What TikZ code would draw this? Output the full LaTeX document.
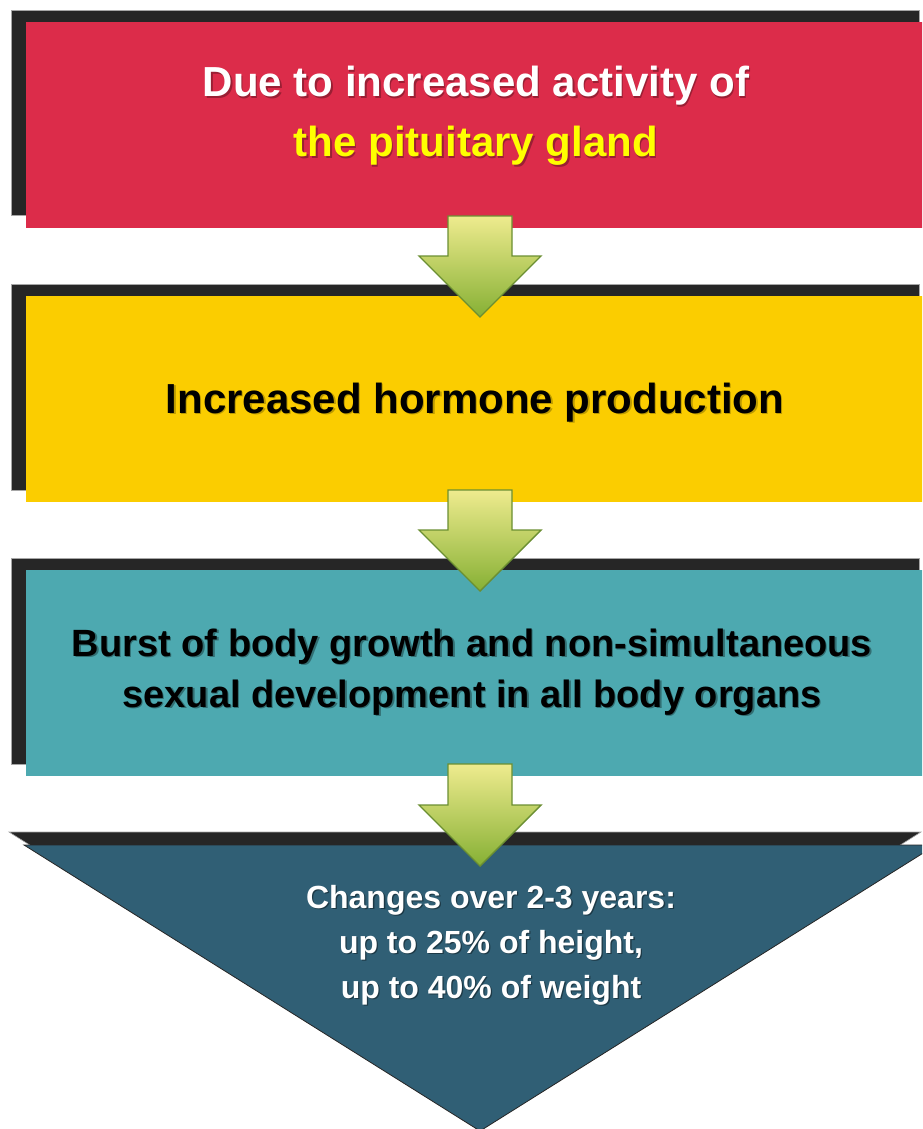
\documentclass[tikz,border=0pt]{standalone}
\usepackage{fontspec}
\setmainfont{Liberation Sans}
\usetikzlibrary{calc}
\definecolor{boxred}{HTML}{DC2C4A}
\definecolor{boxyel}{HTML}{FBCD00}
\definecolor{boxteal}{HTML}{4DA9B0}
\definecolor{boxblue}{HTML}{305F75}
\definecolor{shadowc}{HTML}{262626}
\definecolor{txtyel}{HTML}{FFFF00}
\definecolor{arrtop}{HTML}{EEEB8E}
\definecolor{arrbot}{HTML}{86B034}
\definecolor{arrline}{HTML}{6B8F32}
\tikzset{
  boxsty/.style={minimum width=908pt, minimum height=206pt, anchor=north west, inner sep=0pt, outer sep=0pt},
  shadowsty/.style={fill=shadowc, draw=gray!70, line width=0.6pt},
  arrowsty/.style={top color=arrtop, bottom color=arrbot, draw=arrline, line width=1.4pt, line join=miter},
  txt/.style={align=center, inner sep=0pt, anchor=base},
  bigtxt/.style={txt, font=\fontsize{42}{60}\selectfont\bfseries},
  midtxt/.style={txt, font=\fontsize{38}{51}\selectfont\bfseries},
  smalltxt/.style={txt, font=\fontsize{32}{45}\selectfont\bfseries}
}
\newcommand\shl[3]{\makebox[0pt][l]{\hspace{1.3pt}\raisebox{-1.3pt}{\textcolor{#2}{#3}}}\textcolor{#1}{#3}}
\newcommand\blockarrow[2]{%
  \path[arrowsty] let \p1=(#1), \p2=(#2) in
    (\x1-32pt,\y1+12pt) -- (\x1+32pt,\y1+12pt) -- (\x1+32pt,\y2+40pt) --
    (\x1+61pt,\y2+40pt) -- (\x1,\y2-21pt) -- (\x1-61pt,\y2+40pt) --
    (\x1-32pt,\y2+40pt) -- cycle;}
\begin{document}
\begin{tikzpicture}[x=1pt,y=-1pt]
\useasboundingbox (0,0) rectangle (922,1129);
\clip (0,0) rectangle (922,1129);
% box 1
\fill[shadowsty] (11,10) rectangle (919,215);
\node[boxsty, fill=boxred] (b1) at (26,22) {};
% box 2
\fill[shadowsty] (11,284) rectangle (919,490);
\node[boxsty, fill=boxyel] (b2) at (26,296) {};
% box 3
\fill[shadowsty] (11,558) rectangle (919,764);
\node[boxsty, fill=boxteal] (b3) at (26,570) {};
% triangle
\fill[shadowsty] (9,832) -- (921,832) -- (465,1118) -- cycle;
\fill[boxblue, draw=shadowc, line width=0.8pt] (24,845) -- (936,845) -- (480,1131) -- cycle;
\coordinate (b4) at (480,845);
% texts (base anchor = baseline of last line)
\node[bigtxt] (t1) at (476,157) {\shl{white}{boxred!70!black}{Due to increased activity of}\\\shl{txtyel}{boxred!70!black}{the pituitary gland}};
\node[bigtxt] (t2) at (475,413) {\shl{black}{boxyel!75!black}{Increased hormone production}};
\node[midtxt] (t3) at (472,707) {\shl{black}{boxteal!65!black}{Burst of body growth and non-simultaneous}\\\shl{black}{boxteal!65!black}{sexual development in all body organs}};
\node[smalltxt] (t4) at (491,998) {\shl{white}{boxblue!60!black}{Changes over 2-3 years:}\\\shl{white}{boxblue!60!black}{up to 25\% of height,}\\\shl{white}{boxblue!60!black}{up to 40\% of weight}};
% arrows
\blockarrow{b1.south}{b2.north}
\blockarrow{b2.south}{b3.north}
\blockarrow{b3.south}{b4}
\end{tikzpicture}
\end{document}
